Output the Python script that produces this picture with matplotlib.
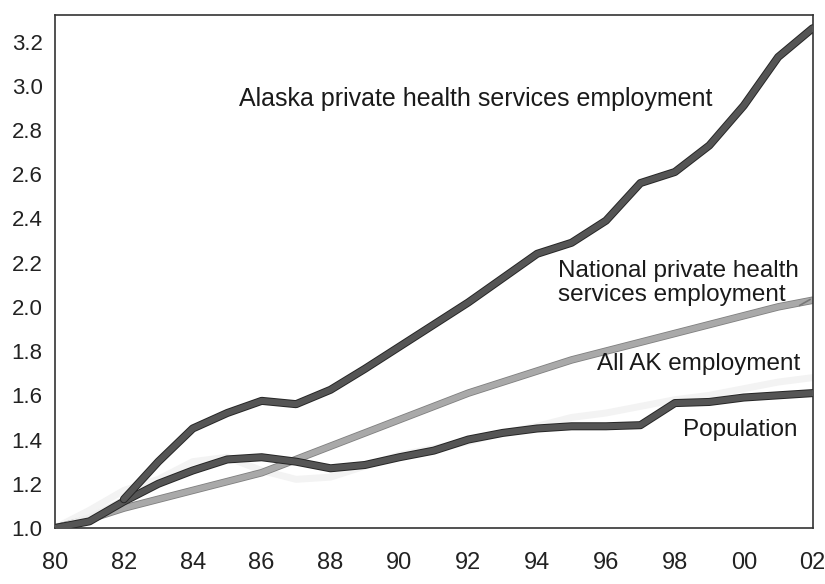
import matplotlib
matplotlib.use("Agg")
import matplotlib.pyplot as plt
import matplotlib.patheffects as pe

years = list(range(1980, 2003))
year_labels = ["80", "82", "84", "86", "88", "90", "92", "94", "96", "98", "00", "02"]
y_ticks = [1.0, 1.2, 1.4, 1.6, 1.8, 2.0, 2.2, 2.4, 2.6, 2.8, 3.0, 3.2]

alaska_health = [1.00, 1.05, 1.13, 1.30, 1.45, 1.52, 1.575, 1.56, 1.625, 1.72, 1.82,
                 1.92, 2.02, 2.13, 2.24, 2.29, 2.39, 2.56, 2.61, 2.73, 2.91, 3.13, 3.26]
national_health = [1.00, 1.04, 1.09, 1.13, 1.17, 1.21, 1.25, 1.31, 1.37, 1.43, 1.49,
                   1.55, 1.61, 1.66, 1.71, 1.76, 1.80, 1.84, 1.88, 1.92, 1.96, 2.00, 2.03]
all_ak_employment = [1.00, 1.08, 1.17, 1.22, 1.30, 1.32, 1.26, 1.22, 1.23, 1.28, 1.33,
                     1.36, 1.39, 1.43, 1.46, 1.50, 1.52, 1.55, 1.58, 1.60, 1.63, 1.66, 1.68]
population = [1.00, 1.03, 1.12, 1.20, 1.26, 1.31, 1.32, 1.30, 1.27, 1.285, 1.32,
              1.35, 1.40, 1.43, 1.45, 1.46, 1.46, 1.465, 1.565, 1.57, 1.59, 1.60, 1.61]

tick_font = ['Liberation Sans', 'DejaVu Sans']
label_font = ['Liberation Sans', 'DejaVu Sans']

fig = plt.figure(figsize=(8.25, 5.84), dpi=100)
ax = fig.add_axes([0.0667, 0.0959, 0.9183, 0.8784])

dark = '#555555'
dark_edge = '#262626'

common = dict(solid_capstyle='round', solid_joinstyle='round')
ax.plot(years, all_ak_employment, color='#f3f3f3', lw=5, zorder=1, **common)
ax.plot(years, national_health, color='#a9a9a9', lw=4.2, zorder=2,
        path_effects=[pe.Stroke(linewidth=5.4, foreground='#808080'), pe.Normal()], **common)
ax.plot(years, population, color=dark, lw=4.4, zorder=3,
        path_effects=[pe.Stroke(linewidth=5.8, foreground=dark_edge), pe.Normal()], **common)
ax.plot(years[:3], alaska_health[:3], color='#eeeeee', lw=4, zorder=2.5)
ax.plot(years[2:], alaska_health[2:], color=dark, lw=4.4, zorder=4,
        path_effects=[pe.Stroke(linewidth=5.8, foreground=dark_edge), pe.Normal()], **common)

ax.set_xlim(1980, 2002)
ax.set_ylim(1.0, 3.32)
ax.set_xticks(years[::2])
ax.set_xticklabels(year_labels, fontfamily=tick_font, fontsize=17)
ax.set_yticks(y_ticks)
ax.set_yticklabels([f"{v:.1f}" for v in y_ticks], fontfamily=tick_font, fontsize=16)
ax.tick_params(axis='x', length=0, pad=17, colors='#222222')
ax.tick_params(axis='y', length=0, pad=9, colors='#222222')
for s in ax.spines.values():
    s.set_color('#333333')
    s.set_linewidth(1.2)

ax.text(1985.33, 2.94, "Alaska private health services employment", fontfamily=label_font,
        fontsize=18, ha='left', va='center', color='#1a1a1a')
ax.text(1994.6, 2.11, "National private health\nservices employment", fontfamily=label_font,
        fontsize=17.5, ha='left', va='center', color='#1a1a1a', linespacing=1.12)
ax.annotate('', xy=(2002, 2.04), xytext=(2001.55, 2.0),
            arrowprops=dict(arrowstyle='-', color='#777777', lw=1.2))
ax.text(2001.65, 1.74, "All AK employment", fontfamily=label_font,
        fontsize=17.5, ha='right', va='center', color='#1a1a1a')
ax.text(2001.57, 1.444, "Population", fontfamily=label_font,
        fontsize=17.5, ha='right', va='center', color='#1a1a1a')

fig.savefig("out.png", dpi=100)
